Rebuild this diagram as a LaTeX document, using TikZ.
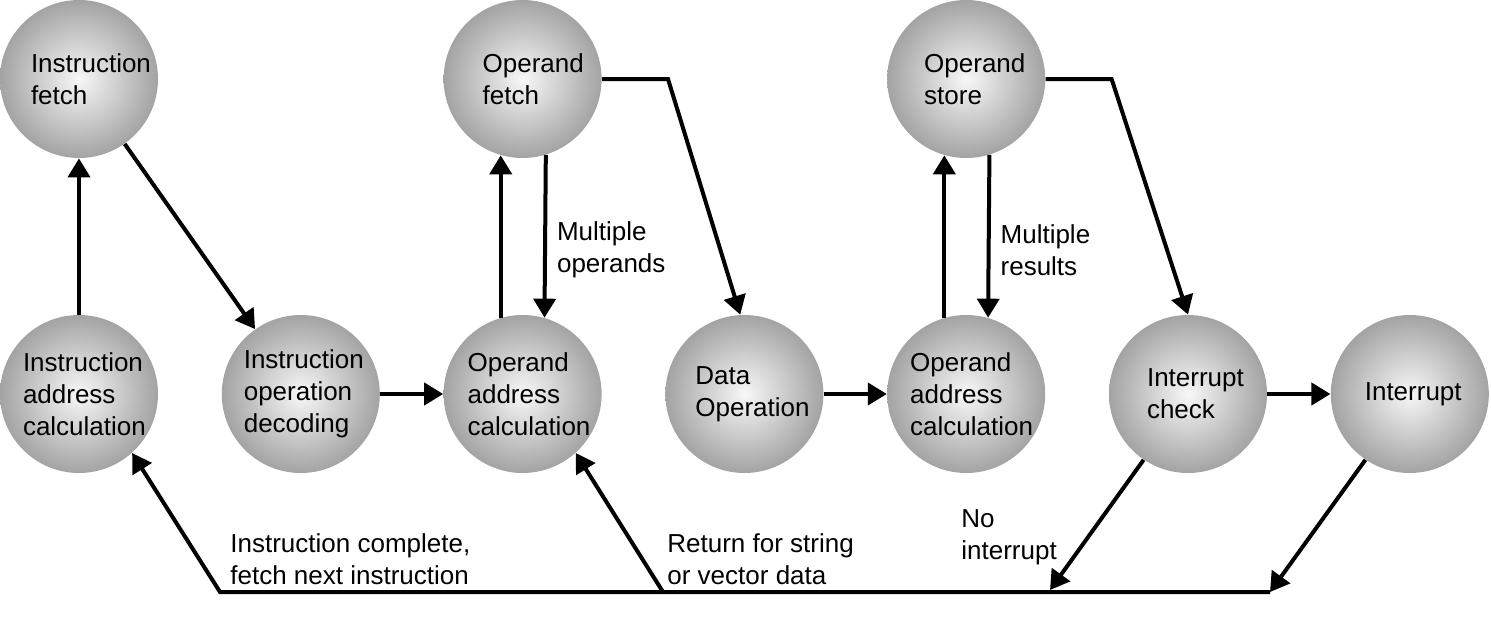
\documentclass[tikz,border=0pt]{standalone}
\usepackage{fontspec}
\setmainfont{Liberation Sans}
\usetikzlibrary{positioning, arrows.meta}
\hyphenpenalty=10000
\hbadness=10000
\hfuzz=100pt

\begin{document}
\begin{tikzpicture}[x=0.5pt,y=-0.5pt,node distance=157.5pt and 110.9pt,on grid,
    phase/.style={circle,minimum size=79pt,inner sep=0pt,align=left,text width=#1,
      inner color=gray!6,outer color=gray!72,font=\fontsize{13}{16}\selectfont},
    phase/.default=56pt,
    flow/.style={-{Triangle[length=9.5pt,width=11pt]},line width=2pt},
    note/.style={align=left,anchor=west,inner sep=0pt,font=\fontsize{13}{16}\selectfont}]
  \useasboundingbox (0,0) rectangle (1491,621);

  % bottom row
  \node[phase] (iac) at (79,394) {Instruction\\address\\calculation};
  \node[phase=57pt] (iod) [right=of iac] {Instruction\\operation\\decoding};
  \node[phase=55pt] (oac1) [right=of iod] {Operand\\address\\calculation};
  \node[phase=49pt] (dop) [right=of oac1] {Data\\Operation};
  \node[phase] (oac2) [right=of dop] {Operand\\address\\calculation};
  \node[phase=41pt] (icheck) [right=of oac2] {Interrupt\\check};
  \node[phase=45pt] (intr) [right=of icheck] {Interrupt};
  % top row
  \node[phase=48pt] (ifetch) [above=of iac] {Instruction\\fetch};
  \node[phase=40pt] (ofetch) [above=of oac1] {Operand\\fetch};
  \node[phase=42pt] (ostore) [above=of oac2] {Operand\\store};

  \coordinate (bl) at (220,592);
  \coordinate (ret) at (663,592);
  \coordinate (nint) at (1050,590);
  \coordinate (iend) at (1270,592);

  \path[flow]
  (iac) edge (ifetch)
  (ifetch) edge (iod)
  (iod) edge (oac1)
  (oac1.106) edge (ofetch.254)
  (ofetch.287) edge node[note,pos=0.585,xshift=5pt] {Multiple\\operands} (oac1.74)
  (dop) edge (oac2)
  (oac2.106) edge (ostore.254)
  (ostore.287) edge node[note,pos=0.585,xshift=5pt] {Multiple\\results} (oac2.74)
  (icheck) edge (intr)
  (icheck.236) edge (nint)
  (intr.236) edge (iend)
  (ret) edge (oac1.-48);

  \draw[flow] (ofetch.east) -- ++(66,0) -- (dop.93);
  \draw[flow] (ostore.east) -- ++(66,0) -- (icheck.north);
  \draw[flow] (iend) -- (bl) -- (iac.-48);

  \node[note] (lcomplete) at (230,559) {Instruction complete,\\fetch next instruction};
  \node[note] (lreturn) at (667,559) {Return for string\\or vector data};
  \node[note] (lnoint) at (961,537) {No\\interrupt};
\end{tikzpicture}
\end{document}
